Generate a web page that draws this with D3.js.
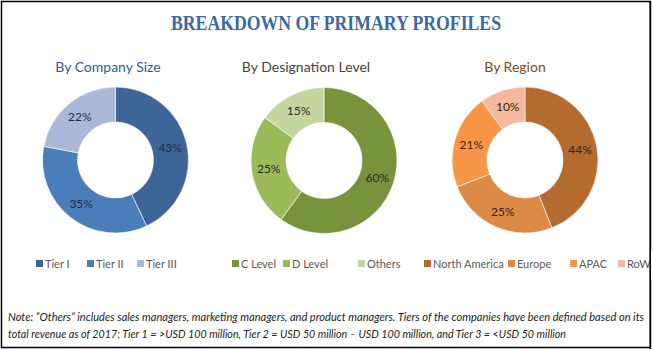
<html>
<head>
  <script src="https://d3js.org/d3.v7.min.js"></script>
  <style>
    body { margin: 0; background: #fff; }
    text { font-family: Lato, "Open Sans", sans-serif; }
  </style>
</head>
<body>
  <svg id="chart" width="653" height="350"></svg>
  <script>
    // data
    const sizeLabels = ["Tier I", "Tier II", "Tier III"];
    const sizeValues = [43, 35, 22];
    const levelLabels = ["C Level", "D Level", "Others"];
    const levelValues = [60, 25, 15];
    const regionLabels = ["North America", "Europe", "APAC", "RoW"];
    const regionValues = [44, 25, 21, 10];

    const panels = [
      { title: "By Company Size", labels: sizeLabels, values: sizeValues,
        colors: ["#3e6597", "#4a7ebb", "#aab9d7"], titleColor: "#2f5d8c", textColor: "#1f2d4a",
        cx: 115.5, cy: 160, tx: 108, legendX: [36, 87, 137] },
      { title: "By Designation Level", labels: levelLabels, values: levelValues,
        colors: ["#77933c", "#9bbb59", "#c4d6a0"], titleColor: "#44443a", textColor: "#2a2a1c",
        cx: 324, cy: 160.5, tx: 306, legendX: [232, 283, 358] },
      { title: "By Region", labels: regionLabels, values: regionValues,
        colors: ["#b46b30", "#dc8a45", "#f79646", "#f5b9a0"], titleColor: "#7a4a1c", textColor: "#3b2210",
        cx: 525, cy: 160, tx: 515, legendX: [424, 508, 570, 618] }
    ];

    const svg = d3.select("svg#chart");

    svg.append("rect")
      .attr("x", 1.5).attr("y", 1.5)
      .attr("width", 649).attr("height", 346)
      .attr("fill", "none")
      .attr("stroke", "#000")
      .attr("stroke-width", 1.5);

    svg.append("text")
      .attr("x", 336).attr("y", 30)
      .attr("text-anchor", "middle")
      .attr("textLength", 330)
      .attr("lengthAdjust", "spacingAndGlyphs")
      .style("font-family", "'Liberation Serif', serif")
      .style("font-weight", "bold")
      .style("font-size", "20px")
      .style("fill", "#3a6a9e")
      .text("BREAKDOWN OF PRIMARY PROFILES");

    const pie = d3.pie().sort(null).startAngle(0).endAngle(2 * Math.PI);
    const outerR = 73, innerR = 38;
    const arc = d3.arc().innerRadius(innerR).outerRadius(outerR);
    const labelArc = d3.arc().innerRadius(56).outerRadius(56);

    panels.forEach(p => {
      svg.append("text")
        .attr("x", p.tx).attr("y", 72)
        .attr("text-anchor", "middle")
        .style("font-size", "14px")
        .style("fill", p.titleColor)
        .text(p.title);

      const g = svg.append("g").attr("transform", `translate(${p.cx},${p.cy})`);
      const arcs = pie(p.values);

      g.selectAll("path").data(arcs).join("path")
        .attr("d", arc)
        .attr("fill", (d, i) => p.colors[i])
        .attr("stroke", "#fff")
        .attr("stroke-width", 0.6);

      g.selectAll("text").data(arcs).join("text")
        .attr("transform", d => `translate(${labelArc.centroid(d)})`)
        .attr("text-anchor", "middle")
        .attr("dy", "0.35em")
        .style("font-size", "12px")
        .style("fill", p.textColor)
        .text(d => d.data + "%");

      const lg = svg.append("g").selectAll("g").data(p.labels).join("g")
        .attr("transform", (d, i) => `translate(${p.legendX[i]},264)`);
      lg.append("rect")
        .attr("x", 0).attr("y", -4)
        .attr("width", 7).attr("height", 7)
        .attr("fill", (d, i) => p.colors[i]);
      lg.append("text")
        .attr("x", 9).attr("y", 0)
        .attr("dy", "0.35em")
        .style("font-size", "11px")
        .style("fill", "#595959")
        .text(d => d);
    });

    // clip the RoW label at the frame like the picture
    svg.append("rect").attr("x", 650.5).attr("y", 250).attr("width", 3).attr("height", 30).attr("fill", "#fff");
    svg.append("line").attr("x1", 650.25).attr("x2", 650.25).attr("y1", 1).attr("y2", 349)
      .attr("stroke", "#000").attr("stroke-width", 1.5);

    const noteLines = [
      "Note: \u201cOthers\u201d includes sales managers, marketing managers, and product managers. Tiers of the companies have been defined based on its",
      "total revenue as of 2017; Tier 1 = >USD 100 million, Tier 2 = USD 50 million \u2013 USD 100 million, and Tier 3 = <USD 50 million"
    ];
    const noteWidths = [636, 558];
    svg.selectAll("text.note").data(noteLines).join("text")
      .attr("class", "note")
      .attr("x", 8)
      .attr("y", (d, i) => 321 + i * 17)
      .attr("textLength", (d, i) => noteWidths[i])
      .attr("lengthAdjust", "spacingAndGlyphs")
      .style("font-size", "11px")
      .style("font-style", "italic")
      .style("fill", "#222")
      .text(d => d);
  </script>
</body>
</html>
